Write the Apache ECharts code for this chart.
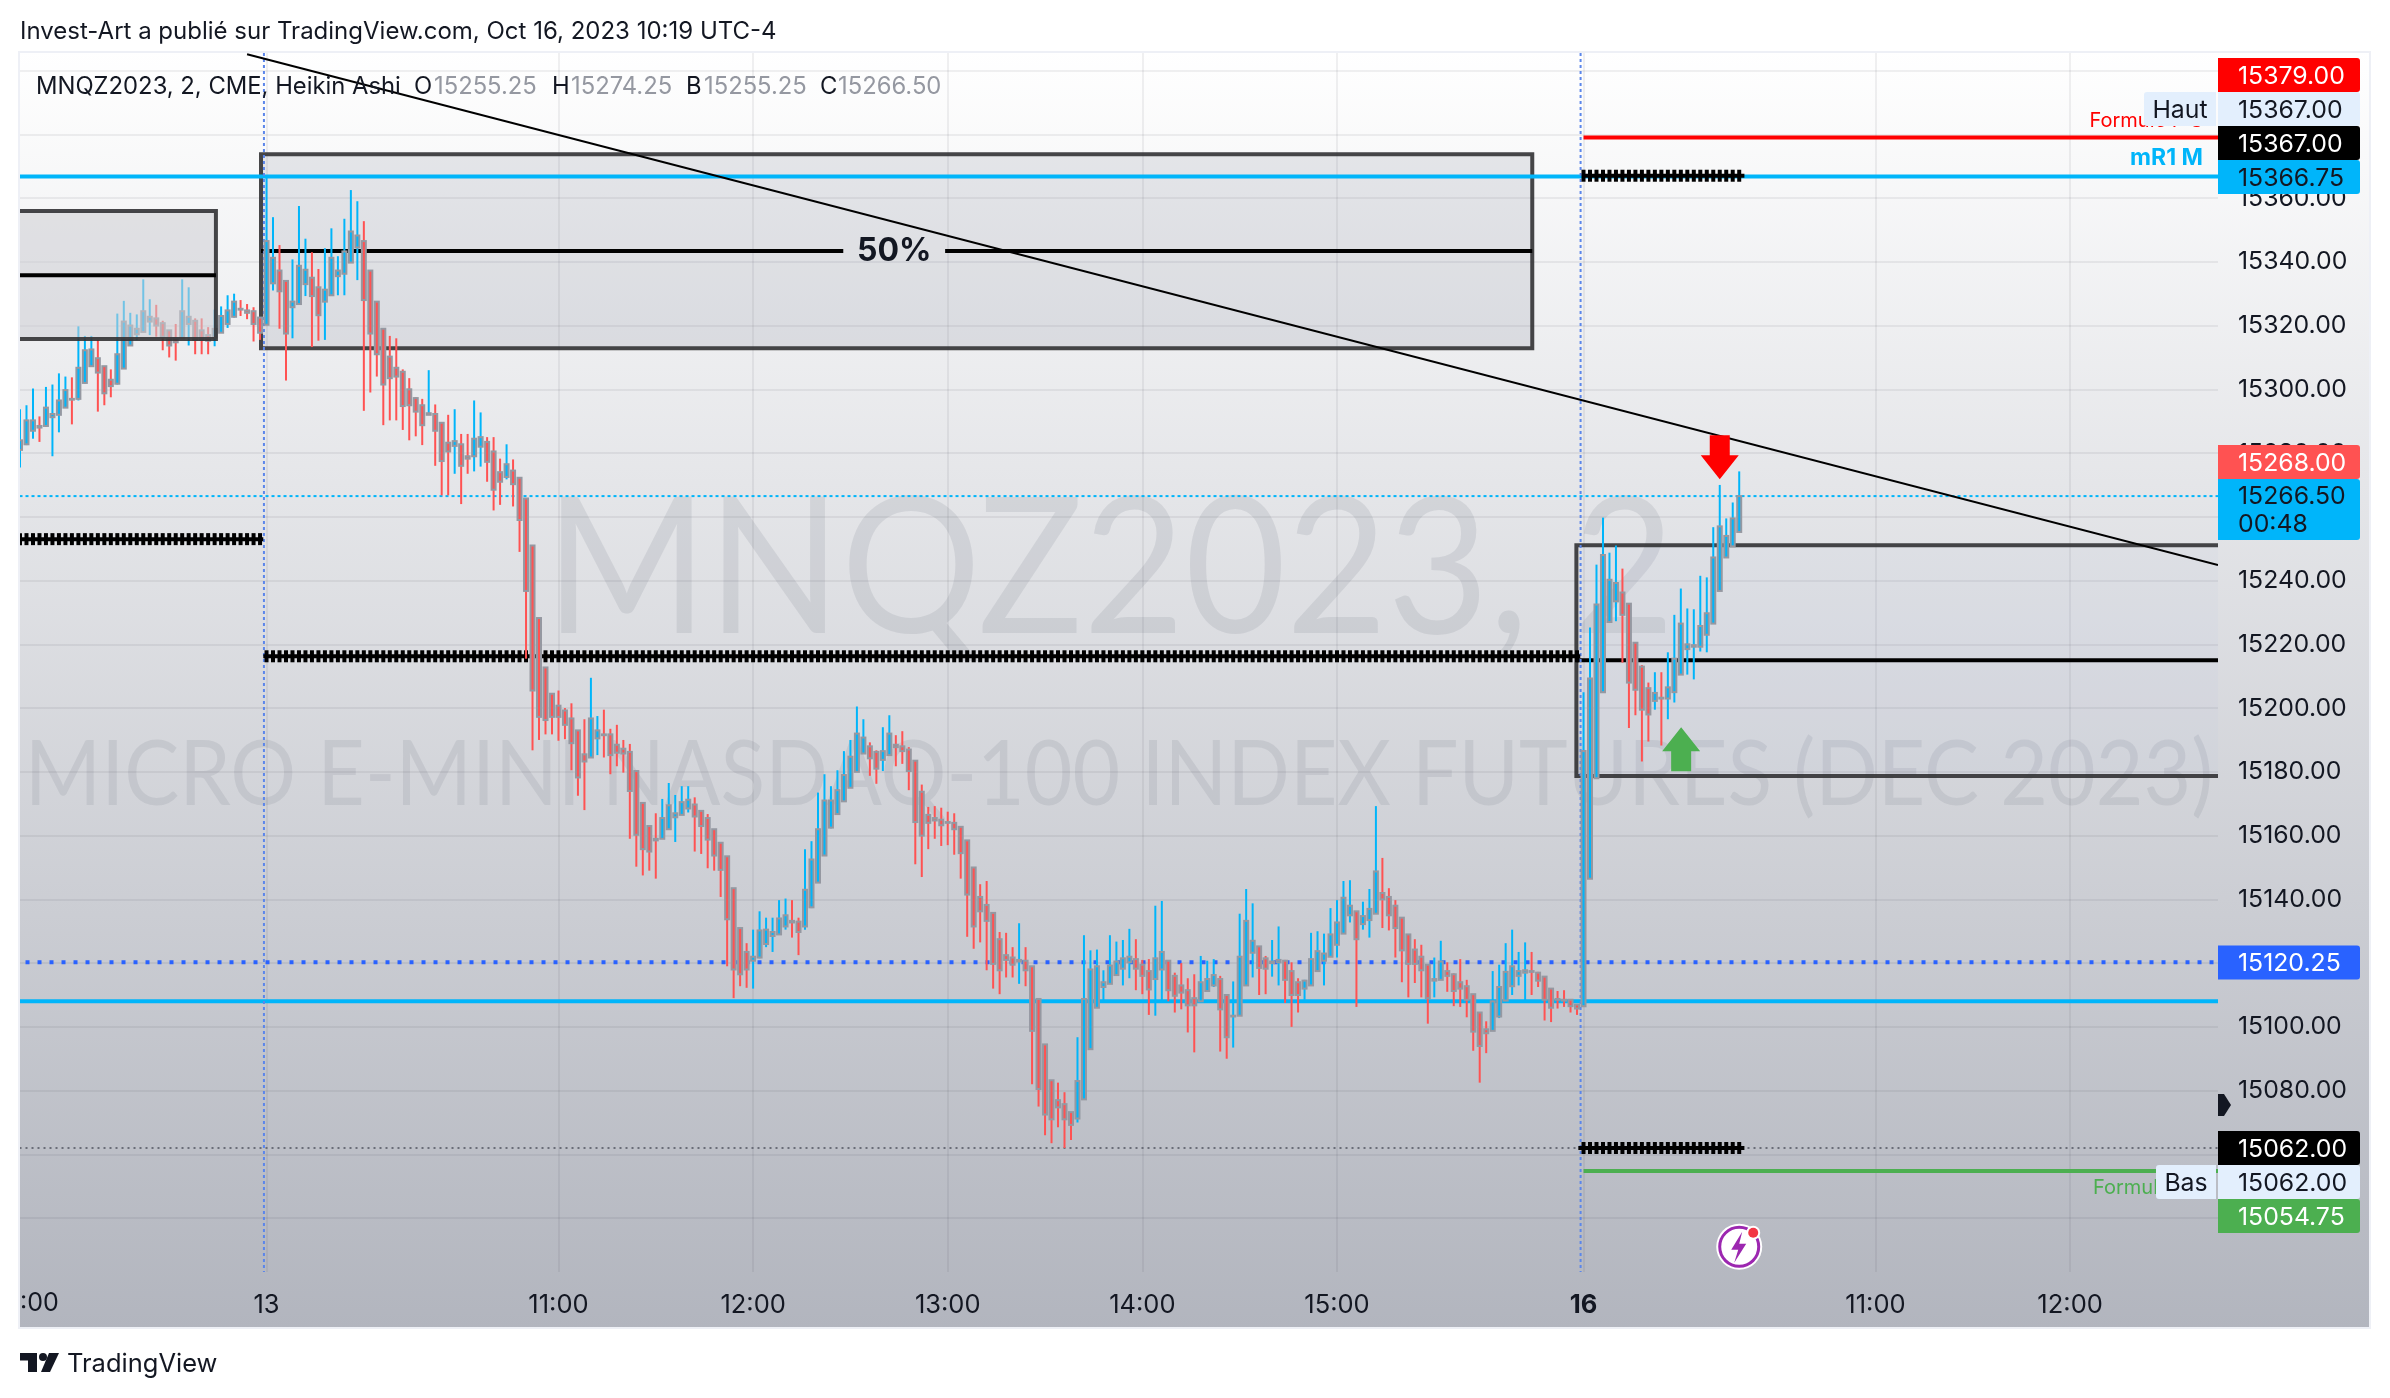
<!DOCTYPE html>
<html><head><meta charset="utf-8">
<style>html,body{margin:0;padding:0;background:#fff}#c{width:2390px;height:1398px}</style>
<script src="https://cdn.jsdelivr.net/npm/echarts@6/dist/echarts.min.js"></script>
</head><body><div id="c"></div>
<script>
const open=[15281,15282.75,15287,15288.5,15288.5,15291.25,15292,15294.25,15297,15297,
15302,15307.25,15309.75,15307.25,15303,15301.75,15306.5,15313.75,15317.25,15318,
15321.25,15322.25,15320.75,15318.5,15316,15316,15320.5,15321.5,15318.5,15317,
15316.25,15317.75,15320.5,15322.75,15325.25,15324.75,15324.5,15322.5,15320.25,15333.25,
15337.25,15334,15325.75,15326.75,15333,15335,15332,15327.5,15329.5,15335.5,
15336.25,15339.75,15344.5,15346.5,15337.25,15327.5,15319,15310.25,15306.75,15305.5,
15300,15297.25,15295,15292,15292.25,15289.5,15283.25,15282.25,15282.75,15279,
15279,15282,15283.5,15280.5,15274,15272.5,15274.5,15272.25,15265.75,15251,
15228.25,15212.75,15204.5,15200.75,15199.25,15196.75,15193,15185.5,15184.5,15190.5,
15191.75,15191.75,15188.5,15187.25,15186.25,15180.25,15170.25,15163,15159,15159,
15162,15165.75,15166.5,15168.5,15169.75,15167.75,15165.5,15162,15157.75,15153.5,
15143.5,15131,15123.5,15120.75,15121.75,15126,15128.5,15129,15131.5,15133.25,
15133,15131.5,15137.5,15145.25,15153.75,15162.5,15166.75,15170.75,15175,15180,
15185.75,15188,15186.25,15183.75,15185.25,15188.5,15188,15187,15183.5,15173.75,
15166.5,15165.5,15165,15164.25,15164,15162.75,15158.5,15150,15140.75,15138.25,
15135.75,15127.5,15122.5,15121.75,15120.5,15120.75,15119,15108.75,15094.5,15083.25,
15077,15075.75,15073.25,15071.25,15077.25,15093,15106,15112.5,15113.5,15116.25,
15118.25,15120.25,15121.25,15119.5,15117.5,15115,15118,15120.75,15116,15113,
15111.5,15109,15108,15111.25,15113,15115,15110,15103.25,15103.5,15113,
15123.25,15125.25,15121.5,15120,15120.25,15120.75,15117.5,15114,15112,15113,
15117.5,15120.75,15122,15125.75,15129.25,15135,15136.25,15132.25,15133.5,15135.5,
15142,15140.75,15138,15134.25,15129,15124.25,15122,15119.5,15114.5,15114.75,
15117.5,15116.5,15114,15112.75,15110.25,15104.5,15099.25,15098.75,15103.25,15108.25,
15112.75,15116,15117,15117.5,15117,15115.75,15112,15108.75,15108.5,15108.5,
15107,15106.5,15146.5,15178,15205,15227,15233.5,15236.25,15232.75,15220.5,
15213,15206.25,15202.25,15203.25,15203,15205,15210.5,15218.5,15219.25,15219.25,
15223,15226.5,15236.75,15247.25,15250.75,15255.25];
const high=[15293.75,15295,15300.25,15291.5,15300.75,15301.5,15305,15304,15303.75,15319.75,
15316.75,15316.75,15315.5,15307.25,15306.25,15323.75,15327.75,15324,15323.5,15334.5,
15328.25,15326.5,15321.5,15318.5,15320.5,15334.5,15332,15322.25,15322.25,15319.5,
15325,15326,15329.5,15330,15328,15326.75,15325.75,15322.5,15367,15354,
15345.25,15334,15340.75,15357.5,15347.25,15343,15337.75,15344.25,15350.5,15341.75,
15353.5,15362.5,15359,15352.75,15337.25,15327.5,15319,15316.75,15316,15306.25,
15303.5,15297.5,15297,15306,15295.25,15289.5,15292,15293.75,15286,15286,
15296.5,15292.75,15285,15285,15278.25,15282.75,15278,15272.25,15265.75,15251,
15228.25,15212.75,15204.5,15205.5,15200,15201.5,15193,15196.5,15209.5,15197.5,
15199.5,15193.5,15194.75,15190,15188.75,15180.25,15170.25,15163,15167,15171.5,
15176.5,15172.75,15175.5,15175.5,15172,15167.75,15166.75,15162,15157.75,15153.5,
15143.5,15131,15126.25,15130.5,15136.25,15134.25,15134.25,15139.75,15140.25,15139.75,
15134.25,15155.75,15158.25,15173.5,15179.25,15175.5,15180.5,15186.5,15190,15200.5,
15196.5,15189.25,15186.75,15194,15197.75,15191.5,15192.75,15187.75,15183.5,15176,
15169,15169.25,15168.75,15167.5,15167,15162.75,15158.5,15150,15144.75,15145.75,
15135.75,15129.75,15129.5,15125,15132.5,15125,15119,15108.75,15094.5,15083.25,
15082.5,15079.5,15073.25,15096.75,15128.75,15124,15124.25,15117.75,15128.75,15126.75,
15127.25,15130.75,15127.5,15121,15121.25,15138,15139.5,15120.75,15117,15120,
15115.25,15116.5,15122.25,15120.75,15121.25,15116,15110,15114.25,15135.5,15143.25,
15138.75,15125.25,15122.25,15127.25,15131.5,15121,15120.25,15115.25,15114.75,15129.5,
15130,15129.25,15137.25,15139.75,15145.75,15146,15136.25,15139.25,15143.25,15169.25,
15153,15143.5,15139.75,15134.25,15129,15127.5,15125.75,15119.5,15121.75,15127,
15120.25,15116.75,15121.25,15114.75,15110.25,15104.5,15101.75,15117.5,15119.5,15126.25,
15130.5,15123.5,15126.5,15123.5,15117.25,15115.75,15112,15111.25,15111.5,15108.5,
15107,15205,15225.25,15245,15259.75,15248.75,15251,15243.75,15232.75,15220.5,
15213.5,15208,15211.25,15211.25,15217.5,15229.25,15237.5,15231.25,15231,15241.5,
15241,15256.75,15270,15259.5,15264.5,15274.25];
const low=[15275.5,15282.5,15284.5,15283.5,15288.25,15279,15286.5,15294.25,15289,15296.5,
15301.75,15307,15293,15295,15297.5,15301.5,15306.5,15313.75,15315.5,15318,
15317,15316.5,15312.25,15310,15309,15316,15313.75,15311,15311,15311,
15313.5,15317.75,15319.25,15322.5,15323,15322,15315,15315.5,15320.25,15331,
15319,15302.75,15316,15326.75,15329.25,15313.25,15315.25,15315.5,15329.5,15329.5,
15329.5,15339.75,15334.25,15293.25,15299,15304,15288.75,15290.25,15290.25,15287.25,
15284,15285.25,15282.5,15292,15276,15266.75,15266.75,15273.5,15264,15273.5,
15274.25,15275.75,15271,15262,15263.75,15271.75,15263.25,15249,15215.5,15186.75,
15190,15191.75,15191.75,15189.75,15190.25,15180.5,15172.5,15168,15184.5,15185.25,
15184.5,15179.25,15181.75,15179.75,15159,15150.25,15147.5,15149,15146.5,15159,
15162,15158,15166.5,15167.25,15155,15154.25,15149.75,15149,15140.75,15119,
15109,15112.75,15112.25,15112,15121.5,15125,15123.5,15129,15130.5,15128,
15122.5,15130.5,15137.25,15145.25,15153.75,15162.25,15166.75,15170.75,15175,15180,
15185.75,15178.75,15176.25,15180.25,15185.25,15181.75,15182.5,15174.25,15151,15147,
15155.75,15159,15156.75,15157,15154,15146.5,15128.25,15124.5,15126.5,15117.75,
15112,15110.25,15115.5,15115.5,15113.5,15112.75,15082,15075,15066,15063.5,
15068.5,15062,15064.5,15070,15077.25,15093,15106,15108.25,15113.5,15116.25,
15113,15115.25,15111.5,15110.25,15103.75,15103.5,15108.25,15108,15104.5,15105.5,
15098.25,15092,15108,15111,15112.5,15092.25,15090,15093.5,15103.5,15113,
15115.5,15110,15110.25,15115.75,15113,15107.5,15100,15104.5,15108.5,15113,
15117.5,15113,15122,15121.75,15129.25,15132.75,15106.25,15130.5,15128,15135.5,
15131,15130.25,15121.75,15114,15109.25,15113.75,15109.25,15101,15109.25,15114.75,
15111,15106.5,15106.25,15103,15092.5,15082.5,15091.75,15098.75,15102.75,15108,
15110,15113,15108.25,15110,15112.5,15102,15101.5,15105.75,15106.25,15104.5,
15103.75,15106.5,15146.5,15178,15205,15227,15227.25,15214.25,15193.75,15197.75,
15183.25,15189.5,15199.5,15188.25,15196.5,15201.75,15210.5,15210.5,15209,15217.75,
15217.5,15226.5,15236.75,15247.25,15250.75,15255.25];
const close=[15284,15290.25,15290.25,15288,15294.25,15292.25,15296.5,15299.75,15296.75,15306.75,
15312.25,15312.5,15305.25,15298.75,15301,15311,15321.25,15320,15319,15324.5,
15322.75,15320,15316.5,15313.75,15314.75,15324.5,15322.75,15315.5,15315.5,15315.25,
15319,15323,15324.75,15327.5,15325,15324,15320.5,15317.75,15346.5,15341.25,
15330.75,15317.5,15327.5,15338.75,15337.5,15329.25,15323.25,15331.25,15341.25,15337.25,
15343.25,15349.5,15348.25,15328,15317.5,15311,15301.5,15303.5,15304,15294.75,
15295,15293,15288.75,15292.5,15287,15277.5,15280.5,15283.75,15276,15278.25,
15284.5,15285,15277.25,15268.5,15271,15276.5,15270.25,15259,15236.75,15205.5,
15197.25,15196.25,15197.25,15197.25,15194.75,15189,15178.25,15183.25,15196.75,15193,
15191.5,15185.25,15186,15185.75,15174,15160.25,15155.75,15155,15158.5,15165.5,
15169.5,15167,15170.5,15171.25,15166,15163,15158.75,15153.75,15149.25,15133.75,
15118,15116.5,15118,15122,15130.25,15130.5,15129.75,15134,15135,15132.75,
15129.75,15143,15152.5,15162,15171,15171,15174.25,15179,15184.75,15192,
15190.75,15184.25,15181,15186.5,15192,15187.75,15186.5,15180.25,15164.25,15160,
15164,15164.75,15163.25,15164,15162,15154.5,15141.5,15131.5,15136.25,15133.25,
15119.75,15117.75,15121,15119.5,15121,15117.75,15098.75,15080.5,15072.5,15071,
15074.75,15071,15069.25,15083,15108.75,15118,15119,15114,15119.25,15120.5,
15121.5,15122,15118.25,15116,15111.75,15121.5,15123.5,15111.5,15109.75,15110.75,
15106.75,15106.75,15114,15115,15116.25,15105.5,15096.75,15103.5,15122,15133.25,
15127,15118.5,15118.25,15120.5,15121,15114.75,15110,15110,15114.5,15121.25,
15123.75,15123,15129,15132.75,15140.5,15138,15127.5,15134.75,15137,15148.75,
15140,15135,15131,15124,15119.75,15119.75,15117.75,15109,15115,15120.5,
15116,15111.25,15112,15108.5,15098.5,15094,15098,15108,15112.5,15117.25,
15119,15117.5,15117.75,15117.25,15114.5,15108.5,15106,15108.5,15108.25,15106.5,
15105.75,15186.5,15209.25,15232.5,15248,15240.25,15239.25,15229.25,15208,15205.75,
15199.5,15198,15204.75,15203,15206.5,15215.5,15226.5,15220,15219.75,15225.75,
15229.75,15247.25,15257,15254,15259.5,15266.5];

// time axis: bar index -> label
const timeTickBars=[38,83,113,143,173,203,241,286,316];
const timeTickLabels=['13','11:00','12:00','13:00','14:00','15:00','16','11:00','12:00'];
const priceTicks=[15040,15060,15080,15100,15120,15140,15160,15180,15200,15220,15240,15260,15280,15300,15320,15340,15360,15380,15400];

// drawings: [startBar,endBar,top,bottom,mid]
const zoneSession13=[[37.15,233.1,15373.75,15312.9,15343.4]];
const zoneSession16=[[239.9,345,15251.1,15178.7,15215]];
const zonesFront=[[-3,30.2,15355.9,15315.75,15335.8]];
const zoneGapBars=[126.9,142.6];
// horizontal levels: [startBar,endBar,price]
const solidCyan=[[-1,345,15366.75],[-1,345,15108]];
const redLevel=[241,345,15379], greenLevel=[241,345,15054.75];
const blueDotted=[-1,345,15120.25], lastDotted=[-1,345,15266.5], greyDotted=[-1,345,15062];
// hatched levels: [startBar,endBar,price]
const hatched=[[0,37.5,15253],[37.5,240.5,15216.25],[240.2,265.8,15062],[241,265.8,15367]];
const sessionBreaks=[37.6,240.55];
const trendLine=[[35,15405.1],[338.8,15244.9]];
const arrowTips=[[262,15271.8,'down'],[256.05,15194,'up']];
const flashAt=[265,15031];

const axisFont='Inter';
const DARK='#131722', CY='#00b5fa', RED='#ff5252', GREY='#9598a1';
const lbl=[ // text, bg, color, centre y
 ['15379.00','#ff0000','#fff',75],['15367.00','#e3effd',DARK,109],['15367.00','#000','#fff',143],
 ['15366.75',CY,DARK,177],['15268.00',RED,'#fff',462],['15120.25','#2962ff','#fff',962.5],
 ['15062.00','#000','#fff',1148],['15062.00','#e3effd',DARK,1182],['15054.75','#4caf50','#fff',1216]];

const F=(s,w)=>(w?w+' ':'')+s+'px '+axisFont+', sans-serif';
function txt(x,y,text,font,fill,align,z){return {type:'text',x:x,y:y,z:z==null?60:z,silent:true,
  style:{text:text,font:font,fill:fill,align:align||'left',verticalAlign:'middle',textAlign:align||'left',textVerticalAlign:'middle'}};}
function rect(x,y,w,h,fill,z,r){return {type:'rect',z:z==null?55:z,silent:true,shape:{x:x,y:y,width:w,height:h,r:r||0},style:{fill:fill}};}

const g=[];
g.push({type:'rect',z:-100,silent:true,shape:{x:19,y:52,width:2351,height:1276},
  style:{fill:new echarts.graphic.LinearGradient(0,0,0,1,[{offset:0,color:'#ffffff'},{offset:1,color:'#b2b5be'}]),stroke:'#eef0f6',lineWidth:2}});
g.push({type:'text',z:-50,silent:true,x:1110,y:572,scaleX:0.92,style:{text:'MNQZ2023, 2',font:'190px Lato, sans-serif',fill:'rgba(120,123,134,0.16)',align:'center',verticalAlign:'middle',textAlign:'center',textVerticalAlign:'middle'}});
g.push({type:'text',z:-50,silent:true,x:1119,y:775,scaleX:0.895,style:{text:'MICRO E-MINI NASDAQ-100 INDEX FUTURES (DEC 2023)',font:'92px Lato, sans-serif',fill:'rgba(120,123,134,0.16)',align:'center',verticalAlign:'middle',textAlign:'center',textVerticalAlign:'middle'}});
g.push(txt(20,32,'Invest-Art a publié sur TradingView.com, Oct 16, 2023 10:19 UTC-4',F(24),DARK,'left'));
g.push(txt(36,87,'MNQZ2023, 2, CME, Heikin Ashi',F(23.8),DARK));
[['O',414,'15255.25',20],['H',552,'15274.25',19],['B',686,'15255.25',18],['C',820,'15266.50',18]].forEach(a=>{
  g.push(txt(a[1],87,a[0],F(23.8),DARK));
  g.push(txt(a[1]+a[3],87,a[2],F(23.8),GREY));
});
// price labels
const LF=24.8, LO=1.5;
g.push(txt(2203,121,'Formule P S',F(20),'#ff0000','right',40));
g.push(txt(2203,158,'mR1 M',F(23,'bold'),CY,'right',40));
g.push(txt(2093,1188,'Formule P S',F(20),'#4caf50','left',40));
lbl.forEach(a=>{
  g.push(rect(2218,a[3]-17,142,34,a[1],55,[0,3,3,0]));
  g.push(txt(2238,a[3]+LO,a[0],F(LF),a[2],'left',56));
});
g.push(rect(2218,479,142,61,CY,55,[0,3,3,0]));
g.push(txt(2238,495+LO,'15266.50',F(LF),DARK,'left',56));
g.push(txt(2238,523+LO,'00:48',F(LF),DARK,'left',56));
g.push(rect(2144,92,72,34,'#e3effd',55,[3,0,0,3]));g.push(txt(2180,109+LO,'Haut',F(LF),DARK,'center',56));
g.push(rect(2156,1165,60,34,'#e3effd',55,[3,0,0,3]));g.push(txt(2186,1182+LO,'Bas',F(LF),DARK,'center',56));
g.push({type:'polygon',z:55,silent:true,shape:{points:[[2218,1094],[2224,1094],[2231,1105],[2224,1116],[2218,1116]]},style:{fill:DARK}});
g.push(txt(20,1303,':00',F(25),DARK));
// logo
g.push({type:'polygon',z:60,silent:true,shape:{points:[[20,1353],[37,1353],[37,1372],[28,1372],[28,1360.5],[20,1360.5]]},style:{fill:DARK}});
g.push({type:'circle',z:60,silent:true,shape:{cx:43,cy:1357,r:4},style:{fill:DARK}});
g.push({type:'polygon',z:60,silent:true,shape:{points:[[49,1353],[59,1353],[50,1372],[41,1372]]},style:{fill:DARK}});
g.push(txt(67,1364,'TradingView',F(25.5),DARK));

function candle(p,api){
  const i=api.value(0),o=api.value(1),h=api.value(2),l=api.value(3),c=api.value(4);
  const x=api.coord([i,o])[0],yO=api.coord([i,o])[1],yH=api.coord([i,h])[1],yL=api.coord([i,l])[1],yC=api.coord([i,c])[1];
  const col=c>=o?CY:RED,top=Math.min(yO,yC),bot=Math.max(yO,yC);
  return {type:'group',children:[
    {type:'rect',shape:{x:x-1,y:yH,width:2,height:yL-yH},style:{fill:col}},
    {type:'rect',shape:{x:x-3,y:top-1,width:6,height:Math.max(2,bot-top+2)},style:{fill:GREY}},
    {type:'rect',shape:{x:x-1,y:top+1,width:2,height:Math.max(0,bot-top-2)},style:{fill:col}}
  ]};
}
function zone(fill,gap){return function(p,api){
  const a=api.coord([api.value(0),api.value(2)]),b=api.coord([api.value(1),api.value(3)]),m=api.coord([api.value(0),api.value(4)])[1];
  const kids=[{type:'rect',shape:{x:a[0],y:a[1],width:b[0]-a[0],height:b[1]-a[1]},style:{fill:fill,stroke:'rgba(50,50,52,0.9)',lineWidth:4}}];
  if(gap){
    const g0=api.coord([zoneGapBars[0],15100])[0],g1=api.coord([zoneGapBars[1],15100])[0];
    kids.push({type:'line',shape:{x1:a[0],y1:m,x2:g0,y2:m},style:{stroke:'#000',lineWidth:4}});
    kids.push({type:'line',shape:{x1:g1,y1:m,x2:b[0],y2:m},style:{stroke:'#000',lineWidth:4}});
    kids.push({type:'text',style:{x:(g0+g1)/2,y:m,text:'50%',font:'bold 32px '+axisFont,fill:'#131722',align:'center',verticalAlign:'middle',textAlign:'center',textVerticalAlign:'middle'}});
    return {type:'group',children:kids};
  }
  kids.push({type:'line',shape:{x1:a[0],y1:m,x2:b[0],y2:m},style:{stroke:'#000',lineWidth:4}});
  return {type:'group',children:kids};
};}
function level(color,width,dash){return function(p,api){
  const a=api.coord([api.value(0),api.value(2)]),b=api.coord([api.value(1),api.value(2)]);
  return {type:'line',shape:{x1:a[0],y1:a[1],x2:b[0],y2:b[1]},style:{stroke:color,lineWidth:width,lineDash:dash||null}};
};}
function hatch(p,api){
  const i0=api.value(0),i1=api.value(1),v=api.value(2);
  const a=api.coord([i0,v]),b=api.coord([i1,v]);
  const kids=[{type:'rect',shape:{x:a[0],y:a[1]-2,width:b[0]-a[0],height:4},style:{fill:'#000'}}];
  for(let k=Math.ceil(i0);k<=i1;k++){
    const x=api.coord([k,v])[0];
    kids.push({type:'rect',shape:{x:x-2,y:a[1]-6,width:4,height:12},style:{fill:'#000'}});
  }
  return {type:'group',children:kids};
}
function arrow(p,api){
  const c=api.coord([api.value(0),api.value(1)]),s=api.value(2)===1?-1:1,col=s<0?'#ff0000':'#4caf50';
  const x=c[0],y=c[1];
  return {type:'polygon',shape:{points:[[x,y],[x+19,y+s*24],[x+10,y+s*24],[x+10,y+s*44],[x-10,y+s*44],[x-10,y+s*24],[x-19,y+s*24]]},style:{fill:col}};
}
function flash(p,api){
  const c=api.coord([api.value(0),api.value(1)]),x=c[0],y=c[1];
  return {type:'group',children:[
    {type:'circle',shape:{cx:x,cy:y,r:23},style:{fill:'#fff'}},
    {type:'circle',shape:{cx:x,cy:y,r:19.5},style:{fill:'rgba(0,0,0,0)',stroke:'#9c27b0',lineWidth:3}},
    {type:'polygon',shape:{points:[[x+3,y-15],[x-8,y+3],[x-1,y+3],[x-5,y+16],[x+7,y-3],[x,y-3]]},style:{fill:'#9c27b0'}},
    {type:'circle',shape:{cx:x+14,cy:y-14,r:7},style:{fill:'#fff'}},
    {type:'circle',shape:{cx:x+14,cy:y-14,r:5},style:{fill:'#f23645'}}
  ]};
}
function cs(name,data,ri,z){return {type:'custom',name:name,data:data,renderItem:ri,z:z,clip:true,silent:true,animation:false,encode:{x:0,y:1}};}

const series=[
  cs('zone13',zoneSession13,zone('rgba(120,124,145,0.16)',true),2),
  cs('zone16',zoneSession16,zone('rgba(185,195,230,0.1)',false),2),
  cs('trend',[[trendLine[0][0],trendLine[0][1],trendLine[1][0],trendLine[1][1]]],function(p,api){
     const a=api.coord([api.value(0),api.value(1)]),b=api.coord([api.value(2),api.value(3)]);
     return {type:'line',shape:{x1:a[0],y1:a[1],x2:b[0],y2:b[1]},style:{stroke:'#000',lineWidth:2}};},6),
  cs('cyan',solidCyan,level(CY,4),3),
  cs('red',[redLevel],level('#ff0000',4),3),
  cs('green',[greenLevel],level('#4caf50',4),3),
  cs('blue',[blueDotted],level('#2962ff',4,[4,8]),3),
  cs('last',[lastDotted],level(CY,2,[3,3]),3),
  cs('grey',[greyDotted],level('#6a6d78',2,[2,4]),3),
  cs('sessions',sessionBreaks.map(b=>[b]),function(p,api){
     const x=api.coord([api.value(0),15100])[0],c=api.coord([0,15405.5])[1],d=api.coord([0,15023.1])[1];
     return {type:'line',shape:{x1:x,y1:c,x2:x,y2:d},style:{stroke:'#5b86ea',lineWidth:2,lineDash:[3,3]}};},3),
  cs('hatched',hatched,hatch,3),
  cs('candles',open.map((o,i)=>[i,o,high[i],low[i],close[i]]),candle,5),
  cs('zoneFront',zonesFront,zone('rgba(205,206,212,0.55)',false),8),
  cs('arrows',arrowTips.map(a=>[a[0],a[1],a[2]==='down'?1:0]),arrow,9),
  cs('flash',[flashAt],flash,9)
];

const chart=echarts.init(document.getElementById('c'),null,{renderer:'canvas'});
chart.setOption({
  animation:false,backgroundColor:'#fff',
  grid:{left:20,right:172,top:53,bottom:126,containLabel:false},
  xAxis:{type:'value',min:0,max:338.8,
    axisLine:{show:false},
    axisTick:{show:false,customValues:timeTickBars},
    splitLine:{show:true,lineStyle:{color:'rgba(42,46,57,0.07)',width:2}},
    axisLabel:{customValues:timeTickBars,margin:20,color:DARK,fontSize:25.5,fontFamily:axisFont,
      formatter:function(v){const t=timeTickLabels[timeTickBars.indexOf(v)];return t==='16'?'{b|16}':t;},
      rich:{b:{fontWeight:'bold',fontSize:25.5,fontFamily:axisFont,color:DARK}}}},
  yAxis:{type:'value',position:'right',min:15023.1,max:15405.5,
    axisLine:{show:false},
    axisTick:{show:false,customValues:priceTicks},
    splitLine:{show:true,lineStyle:{color:'rgba(42,46,57,0.07)',width:2}},
    axisLabel:{customValues:priceTicks,margin:20,color:DARK,fontSize:24.8,fontFamily:axisFont,align:'left',padding:[3,0,0,0],
      formatter:function(v){return v.toFixed(2);}}},
  series:series,
  graphic:{elements:g}
});
</script></body></html>
